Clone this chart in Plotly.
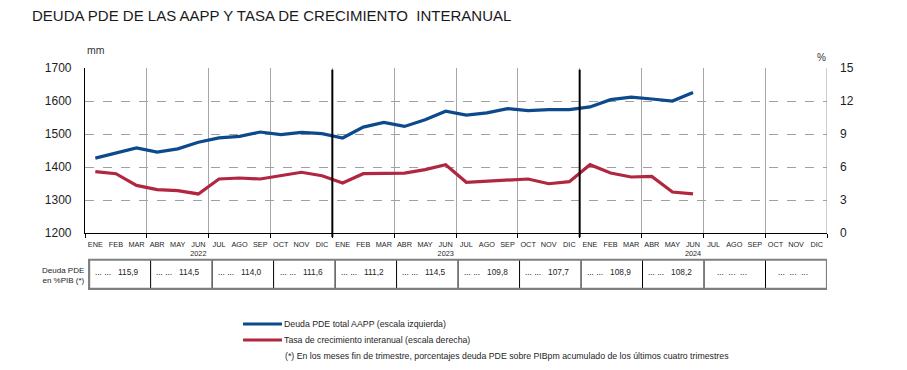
import plotly.graph_objects as go

# ---------------- data ----------------
months = ["ENE", "FEB", "MAR", "ABR", "MAY", "JUN", "JUL", "AGO", "SEP", "OCT", "NOV", "DIC"]
years = ["2022", "2023", "2024"]

debt_mm = [1427, 1442, 1458, 1445, 1455, 1475, 1488, 1493, 1506, 1498, 1505, 1501,
           1488, 1521, 1535, 1523, 1543, 1569, 1557, 1564, 1577, 1571, 1574, 1574,
           1582, 1604, 1612, 1606, 1600, 1626]
growth_pct = [5.58, 5.39, 4.33, 3.94, 3.85, 3.55, 4.91, 5.00, 4.91, 5.21, 5.52, 5.21,
              4.55, 5.39, 5.45, 5.45, 5.76, 6.21, 4.61, 4.70, 4.79, 4.91, 4.48, 4.67,
              6.21, 5.45, 5.09, 5.15, 3.73, 3.55]
pib_pct = ["115,9", "114,5", "114,0", "111,6", "111,2", "114,5", "109,8", "107,7",
           "108,9", "108,2", None, None]

series_names = ["Deuda PDE total AAPP (escala izquierda)",
                "Tasa de crecimiento interanual (escala derecha)"]
footnote = ("(*) En los meses fin de trimestre, porcentajes deuda PDE sobre PIBpm "
            "acumulado de los últimos cuatro trimestres")
title = "DEUDA PDE DE LAS AAPP Y TASA DE CRECIMIENTO  INTERANUAL"
table_label = "Deuda PDE<br>en %PIB (*)"

# ---------------- styles ----------------
BLUE = "#0c4a8c"
RED = "#b0273f"
REG = "Liberation Sans, Arial, sans-serif"
TXT = "#1e1e1e"
n_months = len(months) * len(years)
xs = [i + 0.5 for i in range(len(debt_mm))]

tick_vals = [i + 0.5 for i in range(n_months)]
tick_text = []
for yi, yr in enumerate(years):
    for mi, m in enumerate(months):
        tick_text.append(m + "<br>" + yr if mi == 5 else m)

fig = go.Figure()
fig.add_trace(go.Scatter(x=xs, y=debt_mm, mode="lines", name=series_names[0],
                         line=dict(color=BLUE, width=3.2), yaxis="y", showlegend=False))
fig.add_trace(go.Scatter(x=xs, y=growth_pct, mode="lines", name=series_names[1],
                         line=dict(color=RED, width=3.2), yaxis="y2", showlegend=False))

shapes = []
annotations = []

# year boundary lines
for k in range(1, len(years)):
    xb = k * len(months)
    shapes.append(dict(type="line", xref="x", yref="paper", x0=xb, x1=xb, y0=-0.025, y1=0.99,
                       line=dict(color="black", width=2), layer="above"))
# right border
shapes.append(dict(type="line", xref="x", yref="paper", x0=n_months, x1=n_months, y0=0, y1=1,
                   line=dict(color="#9a9a9a", width=1), layer="below"))

# table
n_cells = len(pib_pct)
t_left, t_right = 0.2, n_months
cw = (t_right - t_left) / n_cells
ty0, ty1 = -0.339, -0.162
for c in range(1, n_cells):
    xc = t_left + c * cw
    shapes.append(dict(type="line", xref="x", yref="paper", x0=xc, x1=xc, y0=ty0, y1=ty1,
                       line=dict(color="black", width=1)))
shapes.append(dict(type="rect", xref="x", yref="paper", x0=t_left, x1=t_right, y0=ty0, y1=ty1,
                   line=dict(color="#7f7f7f", width=2.2)))
for c, v in enumerate(pib_pct):
    txt = ("...\u00a0...\u00a0\u00a0\u00a0" + v) if v else "...\u00a0\u00a0...\u00a0\u00a0..."
    annotations.append(dict(xref="x", yref="paper", x=t_left + (c + 0.45) * cw, y=-0.236,
                            text=txt, showarrow=False, xanchor="center", yanchor="middle",
                            font=dict(family=REG, size=8.3, color=TXT)))
annotations.append(dict(xref="paper", yref="paper", x=0.003, y=-0.255, text=table_label,
                        showarrow=False, xanchor="right", yanchor="middle", align="right",
                        font=dict(family=REG, size=8, color=TXT)))

# unit labels
annotations.append(dict(xref="paper", yref="paper", x=0.0, y=1.109, text="mm", showarrow=False,
                        xanchor="left", yanchor="middle", font=dict(family=REG, size=10.5, color="#333")))
annotations.append(dict(xref="paper", yref="paper", x=0.993, y=1.061, text="%", showarrow=False,
                        xanchor="center", yanchor="middle", font=dict(family=REG, size=10, color="#333")))

# legend (manual)
leg_y = [-0.5515, -0.6485]
for name, col, yy in zip(series_names, [BLUE, RED], leg_y):
    shapes.append(dict(type="line", xref="paper", yref="paper", x0=0.213, x1=0.2655, y0=yy, y1=yy,
                       line=dict(color=col, width=3.2)))
    annotations.append(dict(xref="paper", yref="paper", x=0.2655, y=yy, text=name, showarrow=False,
                            xanchor="left", yanchor="middle",
                            font=dict(family=REG, size=8.75, color=TXT)))
annotations.append(dict(xref="paper", yref="paper", x=0.267, y=-0.745, text=footnote, showarrow=False,
                        xanchor="left", yanchor="middle",
                        font=dict(family=REG, size=8.75, color=TXT)))

fig.update_layout(
    width=907, height=370,
    margin=dict(l=85, r=80, t=68, b=137),
    paper_bgcolor="white", plot_bgcolor="white",
    title=dict(text=title, x=32 / 907, xanchor="left", y=1 - 16 / 370, yanchor="middle",
               font=dict(family=REG, size=15, color="#1a1a1a")),
    xaxis=dict(range=[0, n_months], tickmode="array", tickvals=tick_vals, ticktext=tick_text,
               ticks="", tickangle=0, automargin=False, showgrid=False, zeroline=False,
               showline=True, linecolor="black", linewidth=1.2,
               tickfont=dict(family=REG, size=7.3, color=TXT), ticklabelstandoff=4,
               minor=dict(tick0=0, dtick=3, ticks="outside", ticklen=4, tickcolor="black",
                          tickwidth=1, showgrid=True, gridcolor="#a6a6a6", gridwidth=1)),
    yaxis=dict(range=[1200, 1700], dtick=100, showgrid=True, gridcolor="#a0a0a0",
               griddash="dash", gridwidth=1, zeroline=False, showline=True, linecolor="black",
               linewidth=1.2, ticks="", ticklabelstandoff=10, automargin=False,
               tickfont=dict(family=REG, size=12, color=TXT)),
    yaxis2=dict(range=[0, 15], dtick=3, overlaying="y", side="right", showgrid=False,
                zeroline=False, showline=False, ticks="", ticklabelstandoff=12, automargin=False,
                tickfont=dict(family=REG, size=12, color=TXT)),
    shapes=shapes, annotations=annotations,
)

fig.write_html("out.html", config={"displayModeBar": False},
               post_script="document.body.style.margin='0px';")
